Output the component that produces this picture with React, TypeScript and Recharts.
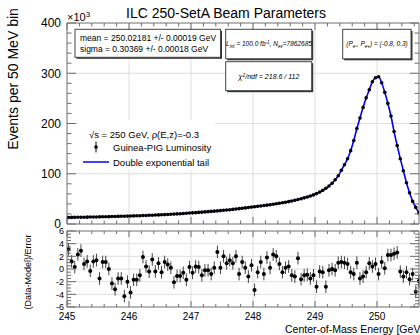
import React from 'react';
import { ComposedChart, Line, XAxis, YAxis, CartesianGrid, ReferenceArea, ErrorBar } from 'recharts';

// ---- data ----
// events per 50 MeV bin, in units of 10^3, bin centres from 245.025 GeV in 0.05 GeV steps
const eventsK = [
  13.0, 13.1, 13.2, 13.3, 13.4, 13.5, 13.6, 13.8, 13.9, 14.0,
  14.2, 14.3, 14.5, 14.6, 14.8, 14.9, 15.1, 15.3, 15.5, 15.7,
  15.9, 16.1, 16.3, 16.5, 16.8, 17.0, 17.3, 17.5, 17.8, 18.1,
  18.4, 18.7, 19.0, 19.4, 19.7, 20.1, 20.5, 20.9, 21.3, 21.8,
  22.2, 22.6, 23.1, 23.6, 24.1, 24.6, 25.1, 25.6, 26.1, 26.7,
  27.3, 27.9, 28.5, 29.1, 29.8, 30.5, 31.2, 32.0, 32.8, 33.6,
  34.4, 35.1, 35.9, 36.7, 37.5, 38.4, 39.3, 40.2, 41.2, 42.2,
  43.3, 44.5, 45.8, 47.2, 48.7, 50.3, 52.0, 53.8, 55.8, 57.9,
  60.5, 63.5, 67, 71, 75.5, 81, 88, 96, 107, 118,
  130, 146, 166, 190, 211, 232, 251, 267, 283, 291,
  293, 281, 262, 240, 215, 184, 156, 130, 106, 82, 62, 45, 33, 22,
];

// (Data-Model)/Error for each bin
const pulls = [
  3.1, 1.2, 0.3, 2.3, 2.9, 0.8, 1.2, -0.3, 1.2, 1.4,
  -1.5, 1.1, 1.1, 0.0, -2.3, -3.2, -1.5, -1.5, -4.3, -2.0,
  -3.7, -1.7, -1.7, -1.0, 1.9, 0.4, -0.4, 1.5, -0.4, 0.9,
  -0.5, 1.1, 0.7, 0.2, -2.1, -1.1, -1.1, -0.6, -1.7, 0.3,
  -0.6, 0.4, 0.3, -1.0, -0.2, -0.2,
  -0.8, 0.2, 2.7, 0.2, 2.0, 0.9, 1.4, 0.9, 2.0, -0.8,
  1.1, 0.2, -1.2, 0.6, -3.3, -0.5, 1.1, -0.8, 1.8, 0.2,
  2.3, 2.0, 0.8, -0.5, 0.2, 0.4, -1.0, -1.2, 1.7, -1.6,
  -1.0, -0.9, -1.5, -1.0, -2.8, -0.4, -0.5, -2.8, -0.2, 0.0,
  -0.2, 1.0, 1.1, 1.0, 0.8, -0.5, -0.8, 1.0, -1.5, -1.2,
  -0.5, 0.9, 0.4, 0.8, -0.8, 1.1, 0.1, 2.2, 2.2, 2.4,
  2.6, -0.4, -1.2, -0.5, -1.6, -0.8, -3.6, -1.9,
];
const pullErrors = pulls.map(() => 1);

const binCenters = eventsK.map((_, i) => Math.round((245.025 + 0.05 * i) * 1000) / 1000);

const xMajorTicks = [245, 246, 247, 248, 249, 250];
const xGridValues = [246, 247, 248, 249, 250];
const xMinorTicks = [
  245.2, 245.4, 245.6, 245.8, 246.2, 246.4, 246.6, 246.8, 247.2, 247.4, 247.6, 247.8,
  248.2, 248.4, 248.6, 248.8, 249.2, 249.4, 249.6, 249.8, 250.2, 250.4, 250.6,
];
const xTicks = [...xMajorTicks, ...xMinorTicks].sort((a, b) => a - b);

const yMainMajor = [0, 100, 200, 300, 400];
const yMainTicks = [0, 20, 40, 60, 80, 100, 120, 140, 160, 180, 200, 220, 240, 260, 280, 300, 320, 340, 360, 380, 400];
const yMainGrid = [100, 200, 300];

const yResMajor = [-6, -4, -2, 0, 2, 4, 6];
const yResTicks = [
  -6, -5.5, -5, -4.5, -4, -3.5, -3, -2.5, -2, -1.5, -1, -0.5, 0,
  0.5, 1, 1.5, 2, 2.5, 3, 3.5, 4, 4.5, 5, 5.5, 6,
];
const yResGrid = [-4, -2, 0, 2, 4];

const X_MIN = 245;
const X_MAX = 250.677;

const mainData = binCenters.map((e, i) => ({ e, events: eventsK[i], model: eventsK[i] }));
const resData = binCenters.map((e, i) => ({ e, pull: pulls[i], err: pullErrors[i] }));

// ---- style / layout ----
const FONT = '"Liberation Sans", Arial, Helvetica, sans-serif';
const FRAME = '#6e6e6e';
const GRID = '#dedede';
const MAIN_H = 201;
const MAIN_W = 352;
const RES_H = 76;

const near = (a: number, b: number) => Math.abs(Number(a) - b) < 1e-6;

const MainXTick = (p: any) => {
  const { x, y, payload } = p;
  const major = xMajorTicks.some((m) => near(payload.value, m));
  const len = major ? 7 : 3.5;
  return (
    <g>
      <line x1={x} y1={y} x2={x} y2={y - len} stroke={FRAME} />
      <line x1={x} y1={y - MAIN_H} x2={x} y2={y - MAIN_H + len} stroke={FRAME} />
    </g>
  );
};

const MainYTick = (p: any) => {
  const { x, y, payload } = p;
  const major = yMainMajor.some((m) => near(payload.value, m));
  const len = major ? 9 : 4.5;
  return (
    <g>
      <line x1={x} y1={y} x2={x + len} y2={y} stroke={FRAME} />
      <line x1={x + MAIN_W} y1={y} x2={x + MAIN_W - len} y2={y} stroke={FRAME} />
      {major && (
        <text x={x - 6} y={y + 4.3} textAnchor="end" fontSize={12} fontFamily={FONT} fill="#000">
          {payload.value}
        </text>
      )}
    </g>
  );
};

const ResXTick = (p: any) => {
  const { x, y, payload } = p;
  const major = xMajorTicks.some((m) => near(payload.value, m));
  const len = major ? 6 : 3;
  return (
    <g>
      <line x1={x} y1={y} x2={x} y2={y - len} stroke={FRAME} />
      <line x1={x} y1={y - RES_H} x2={x} y2={y - RES_H + len} stroke={FRAME} />
      {major ? (
        <text x={x} y={y + 13} textAnchor="middle" fontSize={10} fontFamily={FONT} fill="#000">
          {String(payload.value)}
        </text>
      ) : null}
    </g>
  );
};

const ResYTick = (p: any) => {
  const { x, y, payload } = p;
  const major = yResMajor.some((m) => near(payload.value, m));
  const len = major ? 9 : 4;
  return (
    <g>
      <line x1={x} y1={y} x2={x + len} y2={y} stroke={FRAME} />
      <line x1={x + MAIN_W} y1={y} x2={x + MAIN_W - len} y2={y} stroke={FRAME} />
      {major && (
        <text x={x - 3} y={y + 3.3} textAnchor="end" fontSize={9} fontFamily={FONT} fill="#000">
          {payload.value}
        </text>
      )}
    </g>
  );
};

const dataDot = (p: any) => <circle key={`d${p.index}`} cx={p.cx} cy={p.cy} r={1.8} fill="#000" />;
const pullDot = (p: any) => <circle key={`p${p.index}`} cx={p.cx} cy={p.cy} r={2} fill="#000" />;

const Box = ({ x, y, w, h }: { x: number; y: number; w: number; h: number }) => (
  <g>
    <rect x={x + 1.5} y={y + 1.5} width={w} height={h} fill="#333" />
    <rect x={x} y={y} width={w} height={h} fill="#fff" stroke="#444" strokeWidth={1} />
  </g>
);

export default function App() {
  return (
    <div style={{ position: 'absolute', left: 0, top: 0, width: 420, height: 335, background: '#fff', overflow: 'hidden' }}>
      {/* residual panel */}
      <div style={{ position: 'absolute', left: 0, top: 228, zIndex: 1 }}>
        <ComposedChart width={420} height={107} data={resData} margin={{ top: 3, right: 1, bottom: 0, left: 0 }}>
          <CartesianGrid stroke={GRID} verticalValues={xGridValues} horizontalValues={yResGrid} />
          <XAxis dataKey="e" type="number" domain={[X_MIN, X_MAX]} allowDataOverflow ticks={xTicks} interval={0}
            height={28} tickLine={false} axisLine={false} tickSize={0} tickMargin={0} tick={ResXTick} />
          <YAxis type="number" domain={[-6, 6]} allowDataOverflow ticks={yResTicks} interval={0} width={67}
            tickLine={false} axisLine={false} tickSize={0} tickMargin={0} tick={ResYTick} />
          <ReferenceArea x1={X_MIN} x2={X_MAX} y1={-6} y2={6} fill="none" stroke={FRAME} strokeWidth={1} ifOverflow="visible" />
          <Line dataKey="pull" stroke="none" dot={pullDot} isAnimationActive={false}>
            <ErrorBar dataKey="err" width={0} stroke="#444" strokeWidth={1} direction="y" isAnimationActive={false} />
          </Line>
        </ComposedChart>
      </div>

      {/* main panel */}
      <div style={{ position: 'absolute', left: 0, top: 0, zIndex: 2 }}>
        <ComposedChart width={420} height={236} data={mainData} margin={{ top: 23, right: 1, bottom: 0, left: 0 }}>
          <CartesianGrid stroke={GRID} verticalValues={xGridValues} horizontalValues={yMainGrid} />
          <XAxis dataKey="e" type="number" domain={[X_MIN, X_MAX]} allowDataOverflow ticks={xTicks} interval={0}
            height={12} tickLine={false} axisLine={false} tickSize={0} tickMargin={0} tick={MainXTick} />
          <YAxis type="number" domain={[0, 400]} allowDataOverflow ticks={yMainTicks} interval={0} width={67}
            tickLine={false} axisLine={false} tickSize={0} tickMargin={0} tick={MainYTick} />
          <ReferenceArea x1={X_MIN} x2={X_MAX} y1={0} y2={400} fill="none" stroke={FRAME} strokeWidth={1} ifOverflow="visible" />
          <Line dataKey="events" stroke="none" dot={dataDot} isAnimationActive={false} />
          <Line dataKey="model" type="monotone" stroke="#0000ff" strokeWidth={1.6} dot={false} isAnimationActive={false} />
        </ComposedChart>
      </div>

      {/* annotations */}
      <svg width={420} height={335} style={{ position: 'absolute', left: 0, top: 0, zIndex: 3, pointerEvents: 'none' }}
        fontFamily={FONT}>
        <text x={226} y={18} textAnchor="middle" fontSize={14} fill="#000">ILC 250-SetA Beam Parameters</text>
        <text x={67} y={21} fontSize={11} fill="#000">×10<tspan fontSize={8} dy={-4}>3</tspan></text>
        <text transform="rotate(-90)" x={-79} y={18} textAnchor="middle" fontSize={14} fill="#000">Events per 50 MeV bin</text>
        <text transform="rotate(-90)" x={-272} y={31} textAnchor="middle" fontSize={9} fill="#000">(Data-Model)/Error</text>
        <text x={285} y={333} fontSize={10.5} fill="#000">Center-of-Mass Energy [GeV]</text>

        <Box x={75} y={29.3} w={145.5} h={28} />
        <text x={80} y={40.5} fontSize={8.5} fill="#000">mean =  250.02181 +/- 0.00019 GeV</text>
        <text x={80} y={51.8} fontSize={8.5} fill="#000">sigma =  0.30369 +/- 0.00018 GeV</text>

        <Box x={225.7} y={29.3} w={86} h={29.5} />
        <text x={269} y={46} textAnchor="middle" fontSize={6.5} fontStyle="italic" fill="#000">
          L<tspan fontSize={4.6} dy={1.5}>int</tspan><tspan dy={-1.5}> = 100.0 fb</tspan><tspan fontSize={4.6} dy={-2.5}>-1</tspan><tspan dy={2.5}>, N</tspan><tspan fontSize={4.6} dy={1.5}>ev</tspan><tspan dy={-1.5}>=7862685</tspan>
        </text>

        <Box x={225.7} y={61.7} w={86} h={29} />
        <text x={269} y={79} textAnchor="middle" fontSize={7} fontStyle="italic" fill="#000">
          χ<tspan fontSize={5} dy={-2.5}>2</tspan><tspan dy={2.5}>/ndf =  218.6 / 112</tspan>
        </text>

        <Box x={342.7} y={29.3} w={68.3} h={29.5} />
        <text x={377} y={46} textAnchor="middle" fontSize={6.5} fontStyle="italic" fill="#000">
          (P<tspan fontSize={4.6} dy={1.5}>e-</tspan><tspan dy={-1.5}>, P</tspan><tspan fontSize={4.6} dy={1.5}>e+</tspan><tspan dy={-1.5}>) = (-0.8, 0.3)</tspan>
        </text>

        {/* legend */}
        <rect x={78} y={120} width={137} height={50} fill="#fff" />
        <text x={89} y={137.5} fontSize={9.5} fill="#000">√s = 250 GeV,  ρ(E,z)=-0.3</text>
        <line x1={96} y1={141.5} x2={96} y2={152.5} stroke="#000" strokeWidth={1} />
        <circle cx={96} cy={147} r={1.8} fill="#000" />
        <text x={113} y={150.5} fontSize={9.5} fill="#000">Guinea-PIG Luminosity</text>
        <line x1={83} y1={162} x2={109} y2={162} stroke="#0000ff" strokeWidth={1.5} />
        <text x={113} y={165.5} fontSize={9.5} fill="#000">Double exponential tail</text>
      </svg>
    </div>
  );
}
